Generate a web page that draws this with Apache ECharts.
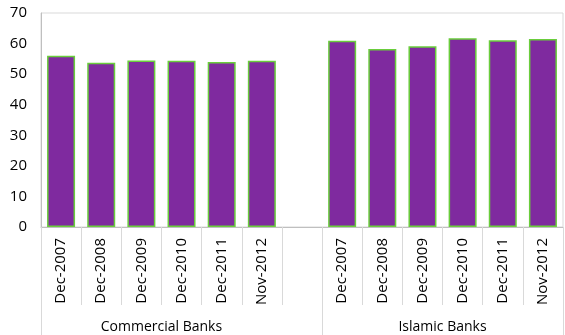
<!DOCTYPE html>
<html>
<head>
<meta charset="utf-8">
<script src="https://cdn.jsdelivr.net/npm/echarts@6/dist/echarts.min.js"></script>
<style>html,body{margin:0;padding:0;background:#fff}#c{width:565px;height:335px}</style>
</head>
<body>
<div id="c"></div>
<script>
const categories = ['Dec-2007','Dec-2008','Dec-2009','Dec-2010','Dec-2011','Nov-2012','',
                    'Dec-2007','Dec-2008','Dec-2009','Dec-2010','Dec-2011','Nov-2012'];
const values = [56.0, 53.7, 54.5, 54.4, 54.0, 54.4, '-',
                60.9, 58.2, 59.1, 61.7, 61.1, 61.5];
const groupNames = ['Commercial Banks', 'Islamic Banks'];
const groupCenters = [3, 10];
const groupBounds = [0, 7, 13];
const yTicks = [0, 10, 20, 30, 40, 50, 60, 70];

const chart = echarts.init(document.getElementById('c'), null, {renderer: 'canvas'});
const font = '"Open Sans", "Noto Sans", sans-serif';
chart.setOption({
  animation: false,
  textStyle: {fontFamily: font},
  grid: {left: 41, right: 2, top: 13, bottom: 108, show: true, borderColor: '#d9d9d9', borderWidth: 1},
  xAxis: [{
    type: 'category',
    data: categories,
    position: 'bottom',
    axisLine: {lineStyle: {color: '#bfbfbf', width: 1}},
    axisTick: {show: true, interval: 0, length: 78, lineStyle: {color: '#d9d9d9'}},
    axisLabel: {interval: 0, rotate: 90, margin: 11, fontSize: 15, color: '#000', fontFamily: font}
  }, {
    type: 'value',
    min: 0, max: 13,
    position: 'bottom',
    axisLine: {show: false},
    splitLine: {show: false},
    axisTick: {show: true, customValues: groupBounds, length: 108, lineStyle: {color: '#d9d9d9'}},
    axisLabel: {
      customValues: groupCenters, margin: 93, fontSize: 14, color: '#000', fontFamily: font,
      formatter: v => { const i = groupCenters.indexOf(v); return i >= 0 ? groupNames[i] : ''; }
    }
  }],
  yAxis: {
    type: 'value',
    min: yTicks[0], max: yTicks[yTicks.length - 1], interval: 10,
    axisLine: {show: true, lineStyle: {color: '#bfbfbf'}},
    axisTick: {show: false},
    splitLine: {show: false},
    axisLabel: {fontSize: 15, color: '#000', margin: 14, fontFamily: font}
  },
  series: [{
    type: 'bar',
    data: values,
    xAxisIndex: 0,
    barWidth: 28,
    itemStyle: {color: '#7F2A9F', borderColor: '#6ACD3C', borderWidth: 1.5}
  }]
});
</script>
</body>
</html>
